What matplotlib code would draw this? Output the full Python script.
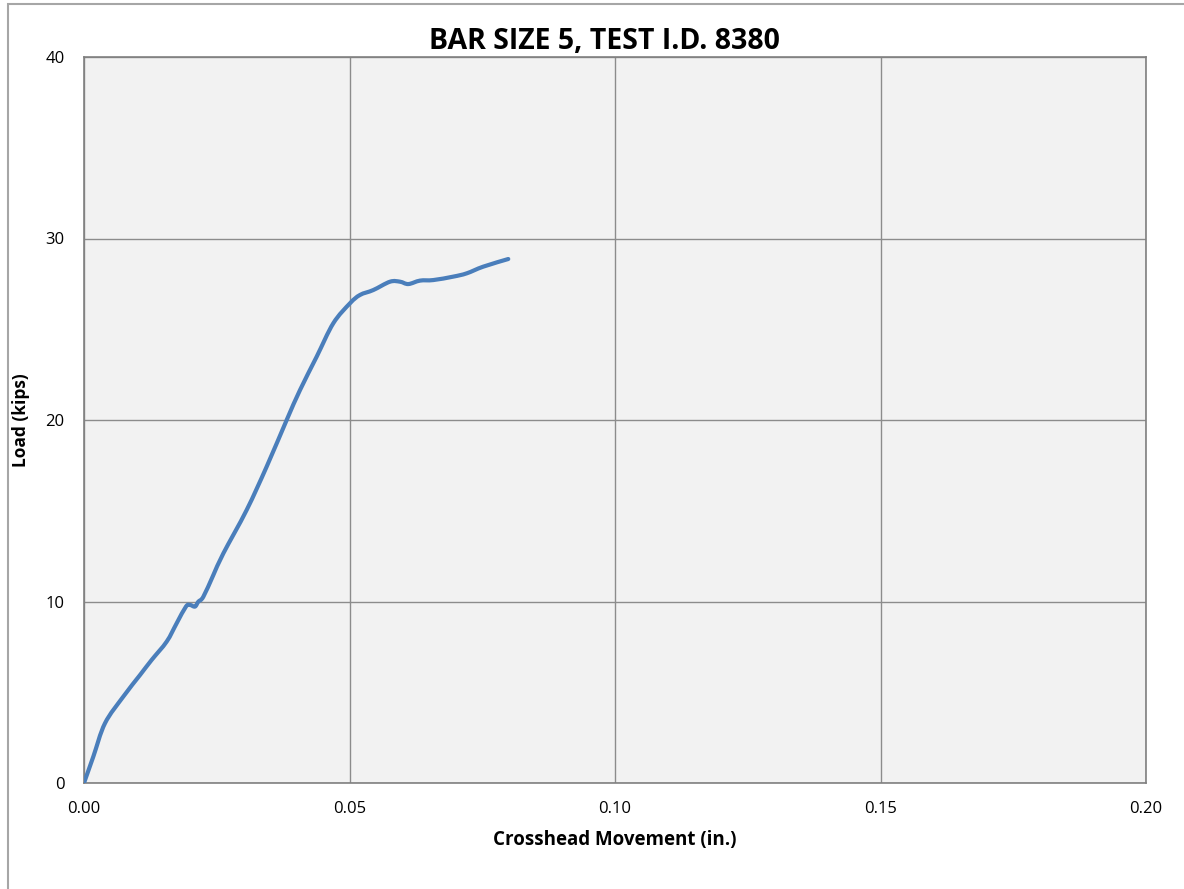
import matplotlib
matplotlib.use("Agg")
import matplotlib.pyplot as plt
from matplotlib.patches import Rectangle, PathPatch
from matplotlib.path import Path

# crosshead movement (in.) and load (kips)
movement = [0.0, 0.00175, 0.00395, 0.0074, 0.01055, 0.01274, 0.01557, 0.01745,
            0.0192, 0.01996, 0.0209, 0.02153, 0.02247, 0.02436, 0.02624, 0.03063,
            0.0344, 0.03817, 0.04068, 0.04382, 0.04695, 0.05009, 0.05198, 0.05448,
            0.05763, 0.05951, 0.06108, 0.06328, 0.06578, 0.06955, 0.07207, 0.0752,
            0.0799]
load = [0.0, 1.45, 3.29, 4.76, 5.95, 6.78, 7.79, 8.8,
        9.72, 9.81, 9.72, 9.99, 10.26, 11.46, 12.65, 15.04,
        17.43, 20.0, 21.65, 23.49, 25.33, 26.43, 26.89, 27.16,
        27.62, 27.62, 27.49, 27.68, 27.71, 27.9, 28.08, 28.45,
        28.87]

x_ticks = [0.0, 0.05, 0.10, 0.15, 0.20]
y_ticks = [0, 10, 20, 30, 40]

plt.rcParams['font.family'] = ['Open Sans', 'DejaVu Sans']

fig = plt.figure(figsize=(11.84, 8.89), dpi=100, facecolor='white')
ax = fig.add_axes([84/1184, 1 - 783/889, (1146-84)/1184, (783-57)/889])

# outer chart border (only top/left show in the reference)
fig.patches.append(Rectangle((8/1184, -0.1), 1.1, 1 - 4/889 + 0.1,
                             transform=fig.transFigure, fill=False,
                             edgecolor='#a6a6a6', linewidth=1.5))

ax.set_facecolor('#f2f2f2')

# smoothed line like the spreadsheet: Catmull-Rom segments as cubic Beziers
pts = list(zip(movement, load))
verts = [pts[0]]
codes = [Path.MOVETO]
n = len(pts)
for i in range(n - 1):
    p0 = pts[max(i - 1, 0)]
    p1 = pts[i]
    p2 = pts[i + 1]
    p3 = pts[min(i + 2, n - 1)]
    c1 = (p1[0] + (p2[0] - p0[0]) / 6, p1[1] + (p2[1] - p0[1]) / 6)
    c2 = (p2[0] - (p3[0] - p1[0]) / 6, p2[1] - (p3[1] - p1[1]) / 6)
    verts += [c1, c2, p2]
    codes += [Path.CURVE4] * 3
ax.add_patch(PathPatch(Path(verts, codes), facecolor='none', edgecolor='#4a7ebb',
                       linewidth=3, capstyle='round', joinstyle='round', zorder=3))

ax.set_xlim(0, 0.20)
ax.set_ylim(0, 40)
ax.set_xticks(x_ticks)
ax.set_xticklabels(['%.2f' % t for t in x_ticks])
ax.set_yticks(y_ticks)
ax.tick_params(length=0, labelsize=12, pad=13, colors='black')
ax.tick_params(axis='y', pad=14)
ax.grid(True, color='#8c8c8c', linewidth=1)
ax.set_axisbelow(True)
for s in ax.spines.values():
    s.set_color('#808080')
    s.set_linewidth(1.2)

# title is centred on the whole chart, not the plot area
ax.set_title('BAR SIZE 5, TEST I.D. 8380', fontsize=20.5, fontweight='bold', pad=6,
             x=(604 - 84) / 1062)
ax.set_xlabel('Crosshead Movement (in.)', fontsize=13.5, fontweight='bold', labelpad=9)
ax.set_ylabel('Load (kips)', fontsize=12.5, fontweight='bold')
ax.yaxis.set_label_coords((30 - 84) / 1062, 0.5)

fig.savefig('out.png', dpi=100, facecolor='white')
